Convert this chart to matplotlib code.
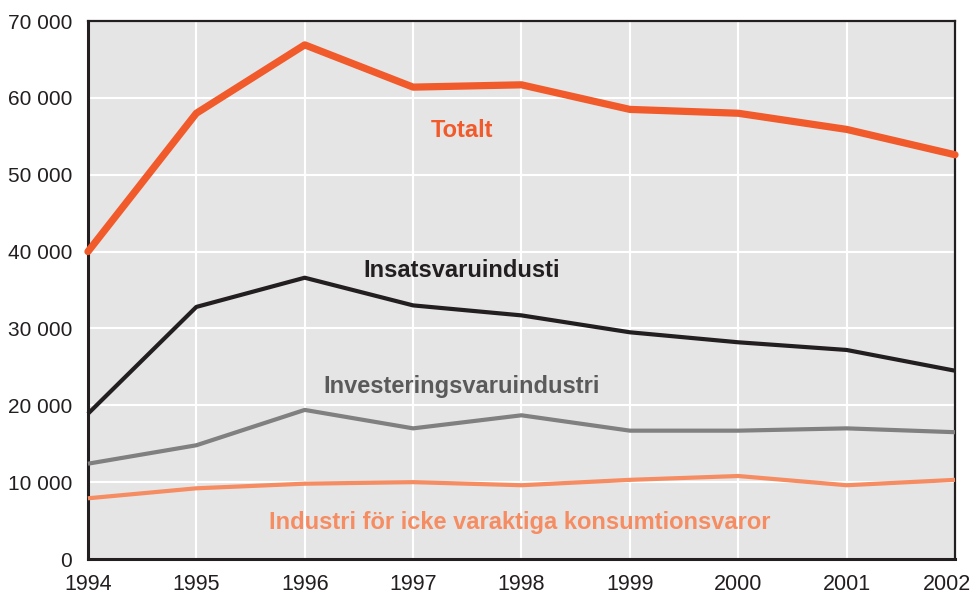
import matplotlib
matplotlib.use("Agg")
import matplotlib.pyplot as plt
from matplotlib.ticker import FuncFormatter
from matplotlib.transforms import ScaledTranslation

years = [1994, 1995, 1996, 1997, 1998, 1999, 2000, 2001, 2002]
totalt = [40000, 58000, 66900, 61400, 61700, 58500, 58000, 55900, 52600]
insats = [18900, 32800, 36600, 33000, 31700, 29500, 28200, 27200, 24500]
invest = [12400, 14800, 19400, 17000, 18700, 16700, 16700, 17000, 16500]
industri = [7900, 9200, 9800, 10000, 9600, 10300, 10800, 9600, 10300]
yticks = [0, 10000, 20000, 30000, 40000, 50000, 60000, 70000]

plt.rcParams['font.family'] = ['Liberation Sans', 'DejaVu Sans']

fig = plt.figure(figsize=(9.74, 5.94), dpi=100)
ax = fig.add_axes([0.0903, 0.0589, 0.8902, 0.9057])
ax.set_facecolor('#E5E5E5')

c_tot = '#F15A2B'
c_ins = '#231F20'
c_inv = '#808080'
c_ind = '#F68C62'

ax.plot(years, industri, color=c_ind, lw=3.0, solid_capstyle='butt', clip_on=False, zorder=3)
ax.plot(years, invest, color=c_inv, lw=3.0, solid_capstyle='butt', clip_on=False, zorder=3)
ax.plot(years, insats, color=c_ins, lw=3.0, solid_capstyle='butt', clip_on=False, zorder=3)
ax.plot(years, totalt, color=c_tot, lw=5.2, solid_capstyle='round', clip_on=False, zorder=3)

ax.set_xlim(1994, 2002)
ax.set_ylim(0, 70000)
ax.set_xticks(years)
ax.set_yticks(yticks)
ax.yaxis.set_major_formatter(FuncFormatter(lambda v, p: f"{int(v):,}".replace(",", " ")))
ax.tick_params(axis='both', length=0, colors='#231F20')
ax.tick_params(axis='x', pad=11, labelsize=15.5)
ax.tick_params(axis='y', pad=11.5, labelsize=15)
ax.grid(True, color='white', lw=1.5, zorder=1)
ax.set_axisbelow(True)

last = ax.get_xticklabels()[-1]
last.set_transform(last.get_transform() + ScaledTranslation(-8 / 100, 0, fig.dpi_scale_trans))

for s in ['left', 'bottom']:
    ax.spines[s].set_linewidth(2.2)
    ax.spines[s].set_color('#231F20')
for s in ['top', 'right']:
    ax.spines[s].set_linewidth(1.6)
    ax.spines[s].set_color('#231F20')

fs = 17
ax.text(1997.45, 55700, 'Totalt', color=c_tot, fontsize=fs, fontweight='bold', ha='center', va='center')
ax.text(1997.45, 37600, 'Insatsvaruindusti', color=c_ins, fontsize=fs, fontweight='bold', ha='center', va='center')
ax.text(1997.45, 22500, 'Investeringsvaruindustri', color='#5A5A5A', fontsize=fs, fontweight='bold', ha='center', va='center')
ax.text(1997.98, 4700, 'Industri för icke varaktiga konsumtionsvaror', color=c_ind, fontsize=fs, fontweight='bold', ha='center', va='center')

fig.savefig('out.png', dpi=100)
